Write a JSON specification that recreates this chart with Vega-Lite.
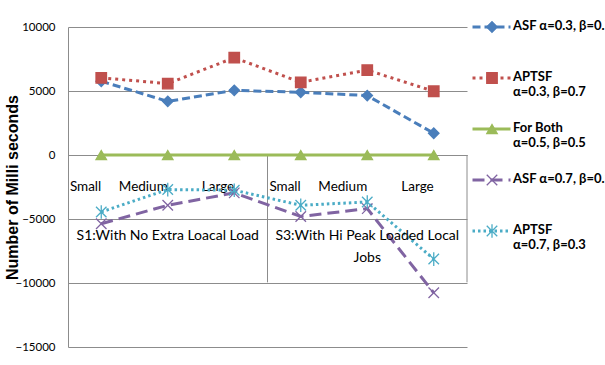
{
  "$schema": "https://vega.github.io/schema/vega-lite/v6.json",
  "width": 399,
  "height": 320,
  "autosize": {"type": "none"},
  "padding": {"left": 68, "top": 27, "right": 138, "bottom": 18},
  "background": "white",
  "config": {
    "view": {"stroke": null},
    "font": "Lato",
    "axis": {"gridColor": "#8c8c8c", "domainColor": "#8c8c8c", "ticks": false, "labelColor": "#000000", "titleColor": "#000000"}
  },
  "datasets": {
    "runs": [
      {"key": "S1 Small", "series": "ASF α=0.3, β=0.7", "ms": 5760},
      {"key": "S1 Medium", "series": "ASF α=0.3, β=0.7", "ms": 4190},
      {"key": "S1 Large", "series": "ASF α=0.3, β=0.7", "ms": 5050},
      {"key": "S3 Small", "series": "ASF α=0.3, β=0.7", "ms": 4900},
      {"key": "S3 Medium", "series": "ASF α=0.3, β=0.7", "ms": 4640},
      {"key": "S3 Large", "series": "ASF α=0.3, β=0.7", "ms": 1700},
      {"key": "S1 Small", "series": "APTSF|α=0.3, β=0.7", "ms": 6030},
      {"key": "S1 Medium", "series": "APTSF|α=0.3, β=0.7", "ms": 5580},
      {"key": "S1 Large", "series": "APTSF|α=0.3, β=0.7", "ms": 7600},
      {"key": "S3 Small", "series": "APTSF|α=0.3, β=0.7", "ms": 5680},
      {"key": "S3 Medium", "series": "APTSF|α=0.3, β=0.7", "ms": 6630},
      {"key": "S3 Large", "series": "APTSF|α=0.3, β=0.7", "ms": 4980},
      {"key": "S1 Small", "series": "For Both|α=0.5, β=0.5", "ms": 0},
      {"key": "S1 Medium", "series": "For Both|α=0.5, β=0.5", "ms": 0},
      {"key": "S1 Large", "series": "For Both|α=0.5, β=0.5", "ms": 0},
      {"key": "S3 Small", "series": "For Both|α=0.5, β=0.5", "ms": 0},
      {"key": "S3 Medium", "series": "For Both|α=0.5, β=0.5", "ms": 0},
      {"key": "S3 Large", "series": "For Both|α=0.5, β=0.5", "ms": 0},
      {"key": "S1 Small", "series": "ASF α=0.7, β=0.3", "ms": -5370},
      {"key": "S1 Medium", "series": "ASF α=0.7, β=0.3", "ms": -3930},
      {"key": "S1 Large", "series": "ASF α=0.7, β=0.3", "ms": -2960},
      {"key": "S3 Small", "series": "ASF α=0.7, β=0.3", "ms": -4800},
      {"key": "S3 Medium", "series": "ASF α=0.7, β=0.3", "ms": -4190},
      {"key": "S3 Large", "series": "ASF α=0.7, β=0.3", "ms": -10760},
      {"key": "S1 Small", "series": "APTSF|α=0.7, β=0.3", "ms": -4450},
      {"key": "S1 Medium", "series": "APTSF|α=0.7, β=0.3", "ms": -2700},
      {"key": "S1 Large", "series": "APTSF|α=0.7, β=0.3", "ms": -2750},
      {"key": "S3 Small", "series": "APTSF|α=0.7, β=0.3", "ms": -3930},
      {"key": "S3 Medium", "series": "APTSF|α=0.7, β=0.3", "ms": -3670},
      {"key": "S3 Large", "series": "APTSF|α=0.7, β=0.3", "ms": -8130}
    ],
    "groups": [
      {"key": "S1 Medium", "label": "S1:With No Extra Loacal Load"},
      {"key": "S3 Medium", "label": "S3:With Hi Peak Loaded Local|Jobs"}
    ]
  },
  "layer": [
    {
      "description": "vertical separators of the two-level category axis",
      "data": {"values": [{"key": "S3 Small"}]},
      "mark": {"type": "rule", "color": "#8c8c8c", "strokeWidth": 1},
      "encoding": {
        "x": {"field": "key", "type": "nominal", "bandPosition": 0,
              "scale": {"domain": ["S1 Small", "S1 Medium", "S1 Large", "S3 Small", "S3 Medium", "S3 Large"], "paddingInner": 0, "paddingOuter": 0}},
        "y": {"datum": 0, "type": "quantitative"},
        "y2": {"datum": -9950}
      }
    },
    {
      "data": {"values": [{"key": "S3 Large"}]},
      "mark": {"type": "rule", "color": "#8c8c8c", "strokeWidth": 1},
      "encoding": {
        "x": {"field": "key", "type": "nominal", "bandPosition": 1},
        "y": {"datum": 0, "type": "quantitative"},
        "y2": {"datum": -9950}
      }
    },
    {
      "data": {"name": "runs"},
      "mark": {"type": "line", "strokeWidth": 3},
      "encoding": {
        "x": {
          "field": "key", "type": "nominal", "sort": null,
          "axis": {
            "title": null, "orient": "bottom", "offset": -192, "labelAngle": 0,
            "labelExpr": "split(datum.label, ' ')[1]",
            "labelFontSize": 13.5, "labelPadding": 31, "grid": false
          }
        },
        "y": {
          "field": "ms", "type": "quantitative",
          "scale": {"domain": [-15000, 10000], "nice": false, "zero": false},
          "axis": {
            "title": "Number of Milli seconds", "values": [-15000, -10000, -5000, 0, 5000, 10000],
            "format": "d", "labelFontSize": 11.5, "labelPadding": 13, "grid": true,
            "titleFont": "Liberation Sans", "titleFontSize": 16, "titleFontWeight": "bold", "titlePadding": -6
          }
        },
        "detail": {"field": "series"},
        "color": {
          "field": "series", "type": "nominal",
          "scale": {
            "domain": ["ASF α=0.3, β=0.7", "APTSF|α=0.3, β=0.7", "For Both|α=0.5, β=0.5", "ASF α=0.7, β=0.3", "APTSF|α=0.7, β=0.3"],
            "range": ["#4a7ebb", "#c0504d", "#9bbb59", "#8064a2", "#4bacc6"]
          },
          "legend": {
            "orient": "none", "legendX": 403, "legendY": -25.5, "title": null, "padding": 0,
            "symbolType": "stroke", "symbolSize": 1444, "symbolStrokeWidth": 3,
            "labelFontSize": 13, "labelFontWeight": "bold", "labelColor": "#000000",
            "labelBaseline": "top", "labelLineHeight": 23, "labelOffset": 1, "labelLimit": 400,
            "clipHeight": 51, "rowPadding": 0,
            "labelExpr": "indexof(datum.label, '|') >= 0 ? split(datum.label, '|') : [datum.label, '']",
            "encode": {"labels": {"update": {"dy": {"value": -7}}}}
          }
        },
        "strokeDash": {
          "field": "series", "type": "nominal",
          "scale": {
            "domain": ["ASF α=0.3, β=0.7", "APTSF|α=0.3, β=0.7", "For Both|α=0.5, β=0.5", "ASF α=0.7, β=0.3", "APTSF|α=0.7, β=0.3"],
            "range": [[8, 4], [3, 4], [1, 0], [12, 6], [2.5, 3]]
          }
        }
      }
    },
    {
      "data": {"name": "runs"},
      "mark": {"type": "point", "size": 110, "strokeWidth": 1.3, "opacity": 1},
      "encoding": {
        "x": {"field": "key", "type": "nominal", "sort": null},
        "y": {"field": "ms", "type": "quantitative"},
        "fill": {
          "field": "series", "type": "nominal",
          "scale": {
            "domain": ["ASF α=0.3, β=0.7", "APTSF|α=0.3, β=0.7", "For Both|α=0.5, β=0.5", "ASF α=0.7, β=0.3", "APTSF|α=0.7, β=0.3"],
            "range": ["#4a7ebb", "#c0504d", "#9bbb59", "#8064a2", "#4bacc6"]
          },
          "legend": {
            "orient": "none", "legendX": 417.5, "legendY": -25.5, "title": null, "padding": 0,
            "symbolSize": 110, "symbolStrokeWidth": 1.3,
            "labelFontSize": 13, "labelExpr": "''",
            "clipHeight": 51, "rowPadding": 0
          }
        },
        "stroke": {
          "field": "series", "type": "nominal",
          "scale": {
            "domain": ["ASF α=0.3, β=0.7", "APTSF|α=0.3, β=0.7", "For Both|α=0.5, β=0.5", "ASF α=0.7, β=0.3", "APTSF|α=0.7, β=0.3"],
            "range": ["#4a7ebb", "#c0504d", "#9bbb59", "#8064a2", "#4bacc6"]
          }
        },
        "shape": {
          "field": "series", "type": "nominal",
          "scale": {
            "domain": ["ASF α=0.3, β=0.7", "APTSF|α=0.3, β=0.7", "For Both|α=0.5, β=0.5", "ASF α=0.7, β=0.3", "APTSF|α=0.7, β=0.3"],
            "range": ["diamond", "square", "triangle-up", "M-1,-1L1,1M-1,1L1,-1", "M-1,-1L1,1M-1,1L1,-1M0,-1.3L0,1.3"]
          }
        }
      }
    },
    {
      "description": "scenario names under the size labels",
      "data": {"name": "groups"},
      "mark": {"type": "text", "fontSize": 14, "baseline": "top", "lineBreak": "|", "lineHeight": 22, "color": "#000000"},
      "encoding": {
        "x": {"field": "key", "type": "nominal"},
        "y": {"datum": -5800, "type": "quantitative"},
        "text": {"field": "label"}
      }
    }
  ],
  "resolve": {
    "legend": {"color": "independent", "strokeDash": "independent", "fill": "independent", "stroke": "independent", "shape": "independent"}
  }
}
